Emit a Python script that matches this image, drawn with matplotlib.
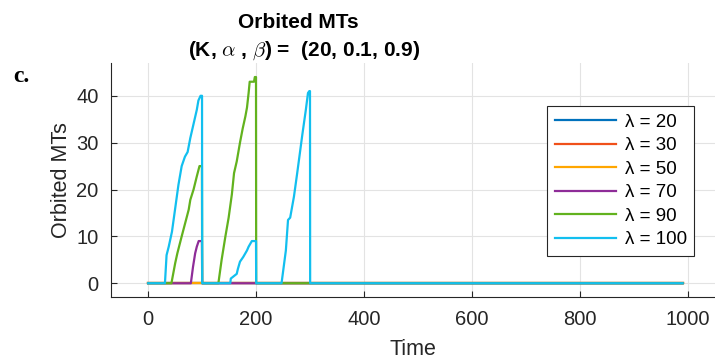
import numpy as np
import matplotlib
matplotlib.use('Agg')
import matplotlib.pyplot as plt

plt.rcParams['font.family'] = ['Liberation Sans', 'DejaVu Sans']
plt.rcParams['mathtext.fontset'] = 'cm'

# lambda values and colours (MATLAB-like order)
lambdas = [20, 30, 50, 70, 90, 100]
cores = ['#0072BD', '#F0501A', '#FFA600', '#8E2C98', '#62B21E', '#12BFEF']

t_fim = 990

# series: (time, orbited MTs)
t_20 = [0, t_fim]
v_20 = [0, 0]

t_30 = [0, t_fim]
v_30 = [0, 0]

t_50 = [0, t_fim]
v_50 = [0, 0]

t_70 = [0, 79, 83, 87, 90, 93.5, 99.5, 100, t_fim]
v_70 = [0, 0, 3.5, 6.4, 7.8, 9, 9, 0, 0]

t_90 = [0, 43, 50, 54, 62, 70, 75, 78, 84, 90, 95, 99.5, 100,
        130, 136, 143, 149, 155, 159, 164, 170, 175, 180, 183, 186, 188, 196, 197.5, 199.7, 200, t_fim]
v_90 = [0, 0, 4.3, 6.4, 10, 13.5, 15.7, 17.8, 20, 22.8, 25, 25, 0,
        0, 5, 10, 14, 19, 23.5, 26, 30, 33, 35.6, 37.5, 40.6, 43, 43, 44, 44, 0, 0]

t_100 = [0, 31, 34, 38, 44, 50, 56, 62, 68, 73, 78, 84, 90, 93, 97, 99.7, 100,
         152, 153, 164, 166, 170, 176, 183, 186, 192, 199.7, 200,
         247, 255, 259, 263, 270, 276, 281, 285.5, 292, 296, 298.5, 299.7, 300, t_fim]
v_100 = [0, 0, 6, 7.8, 11, 16, 21, 25, 27, 28, 31, 34, 37, 39, 40, 40, 0,
         0, 1, 2, 3, 4.6, 5.6, 7, 7.8, 9, 9, 0,
         0, 7, 13.5, 14, 18.5, 23.5, 27.8, 31.7, 37, 40.6, 41, 41, 0, 0]

series_t = [t_20, t_30, t_50, t_70, t_90, t_100]
series_v = [v_20, v_30, v_50, v_70, v_90, v_100]

fig = plt.figure(figsize=(7.15, 3.63), dpi=100)
ax = fig.add_axes([0.1552, 0.181, 0.8448, 0.6455])

for lam, cor, tt, vv in zip(lambdas, cores, series_t, series_v):
    ax.plot(tt, vv, color=cor, linewidth=1.6, label=f'λ = {lam}')

ax.set_xlim(-69, 1050)
ax.set_ylim(-3, 47)
ax.set_xticks([0, 200, 400, 600, 800, 1000])
ax.set_yticks([0, 10, 20, 30, 40])
ax.grid(True, color='#e3e3e3', linewidth=0.8)
ax.set_axisbelow(True)
for s in ['top', 'right']:
    ax.spines[s].set_visible(False)
for s in ['left', 'bottom']:
    ax.spines[s].set_color('#262626')
    ax.spines[s].set_linewidth(0.8)
ax.tick_params(direction='in', length=4, width=0.8, colors='#262626', labelsize=14.5, pad=9)
ax.set_xlabel('Time', fontsize=15.5, color='#262626', labelpad=7)
ax.set_ylabel('Orbited MTs', fontsize=15.5, color='#262626', labelpad=3)

leg = ax.legend(loc='upper left', bbox_to_anchor=(547 / 715, 1 - 106 / 363),
                bbox_transform=fig.transFigure, borderaxespad=0, fontsize=13.5,
                handlelength=3.3, handletextpad=0.45, labelspacing=0.34,
                borderpad=0.4, fancybox=False, framealpha=1, edgecolor='#262626')
leg.get_frame().set_linewidth(0.8)

fig.text(298 / 715, 1 - 22 / 363, 'Orbited MTs', ha='center', va='center',
         fontsize=15, fontweight='bold')
fig.text(304 / 715, 1 - 51 / 363, r'(K, $\alpha$ , $\beta$) =  (20, 0.1, 0.9)', ha='center',
         va='center', fontsize=15, fontweight='bold')
fig.text(13 / 715, 1 - 76 / 363, 'c.', family='Liberation Serif', fontweight='bold',
         fontsize=17, ha='left', va='center')

plt.savefig('out.png', dpi=100)
